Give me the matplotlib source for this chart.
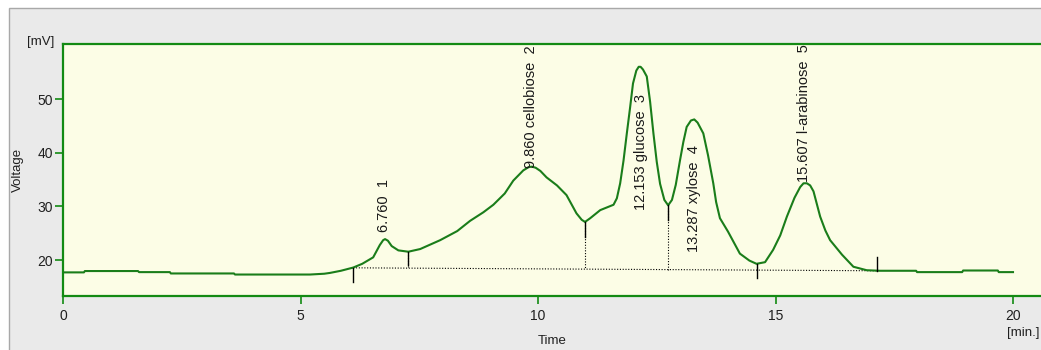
import matplotlib
matplotlib.use("Agg")
import matplotlib.pyplot as plt
from matplotlib.patches import Rectangle

plt.rcParams["font.family"] = ["Liberation Sans", "DejaVu Sans"]

# ── Chromatogram trace (time in min, signal in mV) ───────────────────────────
time_min = [
    0.00, 0.44, 0.46, 1.58, 1.60, 2.25, 2.27, 3.60, 3.62, 5.20, 5.50, 5.62, 5.85,
    6.11, 6.30, 6.53, 6.67, 6.74, 6.78, 6.84, 6.92, 7.06, 7.27, 7.52, 7.94,
    8.30, 8.57, 8.85, 9.06, 9.30, 9.48, 9.69, 9.80, 9.87, 9.95, 10.05, 10.18,
    10.40, 10.60, 10.81, 10.92, 10.99, 11.10, 11.31, 11.45, 11.59, 11.66, 11.73,
    11.80, 11.87, 11.94, 12.00, 12.07, 12.12, 12.16, 12.21, 12.29, 12.36, 12.43,
    12.50, 12.57, 12.66, 12.74, 12.82, 12.90, 12.99, 13.06, 13.13, 13.22, 13.29,
    13.36, 13.48, 13.58, 13.69, 13.75, 13.83, 14.00, 14.25, 14.45, 14.60, 14.78,
    14.95, 15.10, 15.24, 15.40, 15.52, 15.59, 15.66, 15.73, 15.80, 15.94, 16.05,
    16.15, 16.40, 16.64, 16.92, 17.20, 17.96, 17.98, 18.93, 18.95, 19.68, 19.70,
    20.00,
]
signal_mv = [
    17.7, 17.7, 17.95, 17.95, 17.75, 17.75, 17.5, 17.5, 17.3, 17.3, 17.45, 17.6, 18.0,
    18.6, 19.3, 20.5, 22.8, 23.7, 23.9, 23.6, 22.6, 21.8, 21.55, 22.05, 23.7,
    25.4, 27.3, 28.9, 30.3, 32.4, 34.8, 36.7, 37.3, 37.4, 37.2, 36.6, 35.4,
    33.9, 32.1, 28.7, 27.5, 27.1, 27.8, 29.3, 29.8, 30.3, 31.5, 34.3,
    38.5, 43.6, 48.5, 52.9, 55.3, 56.0, 56.0, 55.5, 54.2, 49.5, 43.6,
    38.3, 34.2, 31.2, 30.2, 31.2, 34.0, 38.6, 42.0, 44.8, 46.0, 46.2,
    45.6, 43.6, 39.5, 34.3, 30.8, 27.8, 25.3, 21.2, 19.9, 19.3, 19.6,
    21.9, 24.6, 28.1, 31.6, 33.6, 34.3, 34.3, 33.9, 32.8, 28.1, 25.5,
    23.7, 21.0, 18.75, 18.1, 18.0, 18.0, 17.75, 17.75, 18.05, 18.05, 17.75,
    17.75,
]

# ── Peak annotations ────────────────────────────────────────────────────────
peak_labels = [
    "6.760  1",
    "9.860 cellobiose  2",
    "12.153 glucose  3",
    "13.287 xylose  4",
    "15.607 l-arabinose  5",
]
peak_time = [6.76, 9.86, 12.16, 13.28, 15.61]
label_base_mv = [25.3, 37.2, 29.4, 21.5, 34.6]

# ── Integration boundaries ──────────────────────────────────────────────────
bound_time = [6.11, 7.27, 10.99, 12.74, 14.60, 17.14]
bound_curve_mv = [18.6, 21.55, 27.1, 30.2, 19.3, 18.0]
tick_top_mv = [18.6, 21.55, 27.1, 30.2, 19.2, 20.6]
tick_bottom_mv = [16.0, 19.0, 24.3, 27.4, 16.6, 18.0]
baseline_time = [6.11, 17.14]
baseline_mv = [18.55, 18.0]

x_ticks = [0, 5, 10, 15, 20]
y_ticks = [20, 30, 40, 50]

GREEN = "#138a13"
LINE = "#1a7d1a"

fig = plt.figure(figsize=(10.41, 3.5), dpi=100)
fig.patch.set_facecolor("white")
panel = Rectangle((9 / 1041, -0.01), 1.0, (342 / 350) + 0.01,
                  transform=fig.transFigure, facecolor="#eaeaea",
                  edgecolor="#a8a8a8", lw=1.0, zorder=-10)
fig.add_artist(panel)

ax = fig.add_axes([63 / 1041, 54 / 350, 1 - 63 / 1041, 252 / 350])
ax.set_zorder(1)
ax.set_facecolor("#fcfde6")
ax.set_xlim(0, 978 / 47.5)
ax.set_ylim(13.3, 60.25)

for side in ["left", "top", "bottom"]:
    ax.spines[side].set_color(GREEN)
    ax.spines[side].set_linewidth(1.6)
ax.spines["right"].set_visible(False)

ax.set_xticks(x_ticks)
ax.set_yticks(y_ticks)
ax.tick_params(axis="both", colors=GREEN, length=6, width=1.2,
               labelsize=10, labelcolor="#202020")
ax.tick_params(axis="x", pad=3)
ax.tick_params(axis="y", pad=1)

# trace
ax.plot(time_min, signal_mv, color=LINE, lw=1.5, zorder=3)

# baseline and drop lines
ax.plot(baseline_time, baseline_mv, color="black", ls=(0, (1, 1.5)), lw=0.8, zorder=2)
for t, yc, ytop, ybot in zip(bound_time, bound_curve_mv, tick_top_mv, tick_bottom_mv):
    yb = baseline_mv[0] + (baseline_mv[1] - baseline_mv[0]) * (t - baseline_time[0]) / (baseline_time[1] - baseline_time[0])
    if yc > yb + 0.5:
        ax.plot([t, t], [yc, yb], color="black", ls=(0, (1, 1.5)), lw=0.8, zorder=2)
    ax.plot([t, t], [ytop, ybot], color="black", lw=1.0, zorder=4)

for lbl, t, yb in zip(peak_labels, peak_time, label_base_mv):
    ax.text(t, yb, lbl, rotation=90, rotation_mode="anchor", ha="left",
            va="center", fontsize=10.5, color="#1a1a1a", zorder=5)

# axis captions
fig.text(54 / 1041, 1 - 42 / 350, "[mV]", ha="right", va="center", fontsize=9.5, color="#202020")
fig.text(18 / 1041, 1 - 170 / 350, "Voltage", rotation=90, ha="center", va="center",
         fontsize=9.5, color="#202020")
fig.text(552 / 1041, 1 - 341 / 350, "Time", ha="center", va="center", fontsize=9.5, color="#202020")
fig.text(1040 / 1041, 1 - 333 / 350, "[min.]", ha="right", va="center", fontsize=9.5, color="#202020")

fig.savefig("out.png", dpi=100)
